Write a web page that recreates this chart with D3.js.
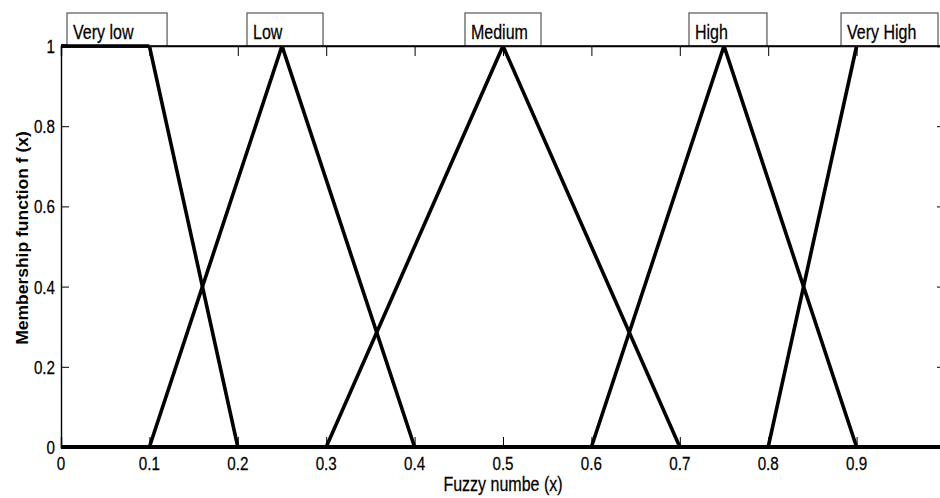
<!DOCTYPE html>
<html>
<head>
<meta charset="utf-8">
<script src="https://cdn.jsdelivr.net/npm/d3@7"></script>
<style>
  html, body { margin: 0; padding: 0; background: #fff; }
  svg { display: block; }
  text { font-family: "Liberation Sans", Arial, sans-serif; fill: #000; }
</style>
</head>
<body>
<svg id="chart" width="940" height="498"></svg>
<script>
// ---- data ----
const mfNames = ["Very low", "Low", "Medium", "High", "Very High"];
const veryLowPts  = [[0, 1], [0.1, 1], [0.2, 0], [1, 0]];
const lowPts      = [[0, 0], [0.1, 0], [0.25, 1], [0.4, 0], [1, 0]];
const mediumPts   = [[0, 0], [0.3, 0], [0.5, 1], [0.7, 0], [1, 0]];
const highPts     = [[0, 0], [0.6, 0], [0.75, 1], [0.9, 0], [1, 0]];
const veryHighPts = [[0, 0], [0.8, 0], [0.9, 1]];
const xTickValues = [0, 0.1, 0.2, 0.3, 0.4, 0.5, 0.6, 0.7, 0.8, 0.9];
const yTickValues = [0, 0.2, 0.4, 0.6, 0.8, 1];
const xTitle = "Fuzzy numbe (x)";
const yTitle = "Membership function f (x)";

// ---- layout ----
const plot = { left: 61, right: 945, top: 46, bottom: 447 };
const SX = 0.8; // horizontal squash of glyphs seen in the reference
// label boxes: left/right edges in data units
const labelBoxes = [
  { x0: 0.0068, x1: 0.120 },
  { x0: 0.2104, x1: 0.2964 },
  { x0: 0.457,  x1: 0.543 },
  { x0: 0.7104, x1: 0.7986 },
  { x0: 0.8824, x1: 0.9921 }
];

const svg = d3.select("#chart");
const x = d3.scaleLinear().domain([0, 1]).range([plot.left, plot.right]);
const y = d3.scaleLinear().domain([0, 1]).range([plot.bottom, plot.top]);

function squashText(sel, px, py, size, anchor) {
  return sel.append("text")
    .attr("transform", `translate(${px},${py}) scale(${SX},1)`)
    .attr("text-anchor", anchor)
    .style("font-size", size + "px")
    .attr("stroke", "#000").attr("stroke-width", 0.25);
}

// frame axes (thin)
const axG = svg.append("g");
axG.append("g").attr("transform", `translate(0,${plot.bottom})`)
  .call(d3.axisBottom(x).tickValues(xTickValues).tickSize(-10).tickFormat(""));
axG.append("g").attr("transform", `translate(0,${plot.top})`)
  .call(d3.axisTop(x).tickValues(xTickValues.filter(v => v > 0)).tickSize(-10).tickFormat(""));
axG.append("g").attr("transform", `translate(${plot.left},0)`)
  .call(d3.axisLeft(y).tickValues(yTickValues).tickSize(-8).tickFormat(""));
axG.append("g").attr("transform", `translate(${plot.right},0)`)
  .call(d3.axisRight(y).tickValues(yTickValues).tickSize(-8).tickFormat(""));
axG.selectAll(".domain").attr("stroke", "#000").attr("stroke-width", 1.4);
axG.selectAll(".tick line").attr("stroke", "#000").attr("stroke-width", 1);

// tick labels
xTickValues.forEach(v => {
  squashText(svg, x(v), 470, 19, "middle").text(v === 0 ? "0" : d3.format(".1f")(v));
});
yTickValues.forEach(v => {
  const t = v === 0 ? "0" : (v === 1 ? "1" : d3.format(".1f")(v));
  squashText(svg, plot.left - 6, y(v) + 7, 19, "end").text(t);
});

// membership functions
const line = d3.line().x(d => x(d[0])).y(d => y(d[1]));
const series = [veryLowPts, lowPts, mediumPts, highPts, veryHighPts];
svg.append("g").selectAll("path").data(series).join("path")
  .attr("d", line)
  .attr("fill", "none")
  .attr("stroke", "#000")
  .attr("stroke-width", 3.6)
  .attr("stroke-linejoin", "miter");

// label boxes
const lg = svg.append("g");
mfNames.forEach((name, i) => {
  const b = labelBoxes[i];
  lg.append("rect")
    .attr("x", x(b.x0)).attr("y", 13)
    .attr("width", x(b.x1) - x(b.x0)).attr("height", 33)
    .attr("fill", "#fff").attr("stroke", "#555").attr("stroke-width", 1.2);
  squashText(lg, x(b.x0) + 6, 39, 20, "start").text(name);
});
// Very low plateau drawn again over the box bottom; top axis line over the other boxes
svg.append("path").datum(veryLowPts.slice(0, 2))
  .attr("d", line).attr("fill", "none").attr("stroke", "#000").attr("stroke-width", 3.6);
svg.append("line")
  .attr("x1", x(0.1)).attr("x2", plot.right)
  .attr("y1", plot.top).attr("y2", plot.top)
  .attr("stroke", "#000").attr("stroke-width", 1.4);

// axis titles
squashText(svg, (plot.left + plot.right) / 2, 491, 20, "middle").text(xTitle);
svg.append("text")
  .attr("transform", `translate(28,238) scale(0.9,1) rotate(-90)`)
  .attr("text-anchor", "middle")
  .style("font-size", "17.5px")
  .style("font-weight", "bold")
  .text(yTitle);
</script>
</body>
</html>
